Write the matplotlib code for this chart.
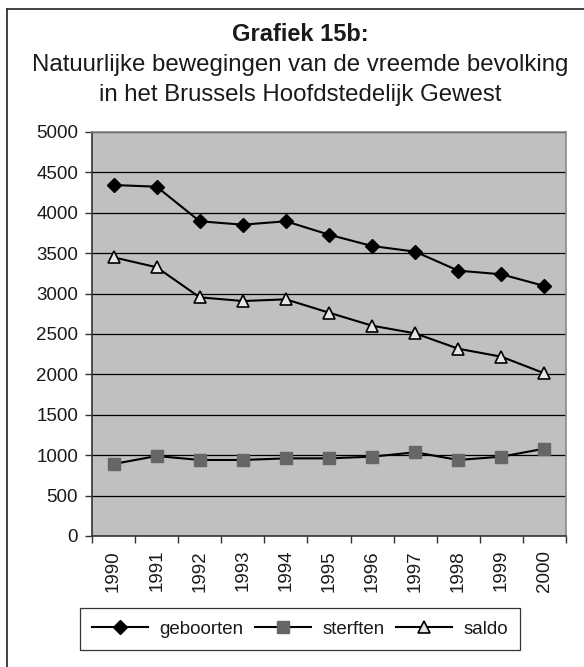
import matplotlib.pyplot as plt
from matplotlib.lines import Line2D
import numpy as np

plt.rcParams['font.family'] = ['Liberation Sans', 'DejaVu Sans']

# data
years = ["1990", "1991", "1992", "1993", "1994", "1995", "1996", "1997", "1998", "1999", "2000"]
geboorten = [4344, 4323, 3895, 3853, 3895, 3729, 3589, 3519, 3284, 3239, 3094]
sterften = [891, 990, 941, 941, 961, 961, 982, 1036, 941, 982, 1081]
saldo = [3449, 3326, 2954, 2908, 2929, 2764, 2603, 2508, 2318, 2219, 2013]
y_ticks = [0, 500, 1000, 1500, 2000, 2500, 3000, 3500, 4000, 4500, 5000]

title_1 = "Grafiek 15b:"
title_2 = "Natuurlijke bewegingen van de vreemde bevolking"
title_3 = "in het Brussels Hoofdstedelijk Gewest"


def main():
    fig = plt.figure(figsize=(5.84, 6.67), dpi=100)
    ax = fig.add_axes([92 / 584, 131 / 667, 474 / 584, 404 / 667])
    ax.set_facecolor("#c0c0c0")

    x = np.arange(len(years))
    ax.plot(x, geboorten, color="black", lw=1.5, marker="D", ms=7.5,
            mfc="black", mec="black", label="geboorten", zorder=3)
    ax.plot(x, sterften, color="black", lw=1.5, marker="s", ms=8,
            mfc="#666666", mec="#666666", label="sterften", zorder=3)
    ax.plot(x, saldo, color="black", lw=1.5, marker="^", ms=9,
            mfc="#e6e6e6", mec="black", mew=1.2, label="saldo", zorder=3)

    # assen
    ax.set_ylim(0, 5000)
    ax.set_yticks(y_ticks)
    ax.yaxis.grid(True, color="black", lw=0.9)
    ax.set_axisbelow(True)
    ax.set_xlim(-0.5, len(years) - 0.5)
    ax.set_xticks(x)
    ax.set_xticklabels(years, rotation=90)
    ax.set_xticks(np.arange(len(years) + 1) - 0.5, minor=True)
    ax.tick_params(axis="x", which="major", length=0, pad=10, labelsize=13.5, colors="#1a1a1a")
    ax.tick_params(axis="x", which="minor", length=5, width=1, color="#333333", direction="out")
    ax.tick_params(axis="y", length=5, width=1, color="#333333", labelsize=13.5,
                   labelcolor="#1a1a1a", pad=5)
    for s in ["left", "bottom"]:
        ax.spines[s].set_color("#333333")
        ax.spines[s].set_linewidth(1.2)
    for s in ["top", "right"]:
        ax.spines[s].set_color("#888888")
        ax.spines[s].set_linewidth(1.2)

    # titel
    cx = 300 / 584
    fig.text(cx, 1 - 41 / 667, title_1, ha="center", va="baseline",
             fontsize=17, fontweight="bold", color="#1a1a1a")
    fig.text(cx, 1 - 70.5 / 667, title_2, ha="center", va="baseline",
             fontsize=17.3, color="#1a1a1a")
    fig.text(cx, 1 - 101 / 667, title_3, ha="center", va="baseline",
             fontsize=17.3, color="#1a1a1a")

    # kader
    fig.add_artist(Line2D([7 / 584, 1], [1 - 9 / 667, 1 - 9 / 667],
                          transform=fig.transFigure, color="#333333", lw=1.3))
    fig.add_artist(Line2D([7 / 584, 7 / 584], [0, 1 - 9 / 667],
                          transform=fig.transFigure, color="#333333", lw=1.3))

    leg = fig.legend(loc="center", bbox_to_anchor=(300 / 584, 1 - 629 / 667), ncol=3,
                     fontsize=13.5, frameon=True, fancybox=False, edgecolor="black",
                     handlelength=3, handletextpad=0.6, columnspacing=0.6,
                     borderpad=0.65, labelcolor="#1a1a1a")
    leg.get_frame().set_linewidth(0.9)

    plt.savefig("out.png", dpi=100)


if __name__ == "__main__":
    main()
